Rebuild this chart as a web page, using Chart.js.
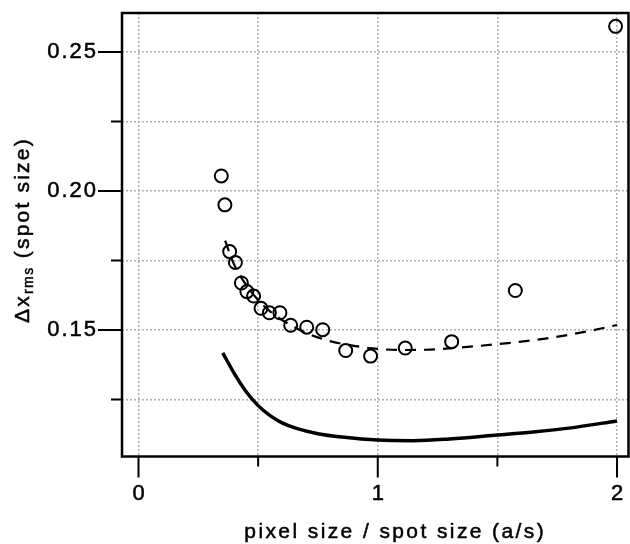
<!DOCTYPE html>
<html>
<head>
<meta charset="utf-8">
<script src="https://cdn.jsdelivr.net/npm/chart.js@4.4.1/dist/chart.umd.min.js"></script>
<style>
  html, body { margin: 0; padding: 0; background: #fff; }
</style>
</head>
<body>
<canvas id="chart" width="630" height="544"></canvas>
<script>
// measured points (circles)
const pointX = [0.346, 0.361, 0.381, 0.405, 0.430, 0.453, 0.481, 0.512, 0.547, 0.591,
                0.636, 0.703, 0.770, 0.866, 0.970, 1.115, 1.309, 1.575, 1.994];
const pointY = [0.2054, 0.1950, 0.1782, 0.1743, 0.1669, 0.1638, 0.1622, 0.1578, 0.1562, 0.1562,
                0.1517, 0.1510, 0.1501, 0.1426, 0.1406, 0.1435, 0.1458, 0.1642, 0.2592];

// dashed fit curve
const fitX = [0.362, 0.40, 0.45, 0.50, 0.55, 0.60, 0.70, 0.80, 0.90, 1.00,
              1.10, 1.20, 1.30, 1.40, 1.50, 1.60, 1.70, 1.80, 1.90, 2.00];
const fitY = [0.1821, 0.1735, 0.1662, 0.1608, 0.1567, 0.1536, 0.1490, 0.1460, 0.1443, 0.1432,
              0.1428, 0.1429, 0.1434, 0.1441, 0.1449, 0.1458, 0.1469, 0.1483, 0.1499, 0.1518];

// solid curve
const limitX = [0.352, 0.40, 0.45, 0.50, 0.55, 0.60, 0.66, 0.75, 0.85, 1.00,
                1.15, 1.30, 1.50, 1.65, 1.80, 2.00];
const limitY = [0.1418, 0.1344, 0.1278, 0.1228, 0.1192, 0.1166, 0.1146, 0.1127, 0.1115, 0.1104,
                0.1102, 0.1108, 0.1122, 0.1133, 0.1147, 0.1173];

const xGrid = [0, 0.5, 1, 1.5, 2];
const xLabels = [0, 1, 2];
const yGrid = [0.125, 0.15, 0.175, 0.2, 0.225, 0.25];
const yLabels = [0.15, 0.2, 0.25];

const xTitle = "pixel size / spot size (a/s)";
const yTitleMain = "\u0394x";
const yTitleSub = "rms";
const yTitleRest = " (spot size)";

const FONT = "'Liberation Sans', Arial, sans-serif";

const toXY = (xs, ys) => xs.map((x, i) => ({ x: x, y: ys[i] }));

// text with letter spacing; trailing spacing left out of the alignment
function spaced(ctx, text, x, y, size, ls, align) {
  ctx.font = size + "px " + FONT;
  ctx.letterSpacing = ls + "px";
  ctx.textAlign = "left";
  const w = ctx.measureText(text).width - ls;
  let x0 = x;
  if (align === "center") x0 = x - w / 2;
  if (align === "right") x0 = x - w;
  ctx.fillText(text, x0, y);
  ctx.strokeText(text, x0, y); // a little heavier, like the original
  return w + ls;
}

// frame, tick marks, tick labels and axis titles
const decor = {
  id: "decor",
  afterDraw(chart) {
    const { ctx, chartArea: a, scales } = chart;
    ctx.save();
    ctx.strokeStyle = "#000";
    ctx.lineWidth = 2;
    ctx.beginPath();
    yGrid.forEach((v) => {
      const y = scales.y.getPixelForValue(v);
      const len = yLabels.includes(v) ? 24 : 11;
      ctx.moveTo(a.left - len, y);
      ctx.lineTo(a.left, y);
    });
    xGrid.forEach((v) => {
      const x = scales.x.getPixelForValue(v);
      const len = xLabels.includes(v) ? 21 : 10;
      ctx.moveTo(x, a.bottom);
      ctx.lineTo(x, a.bottom + len);
    });
    ctx.stroke();

    ctx.lineWidth = 2.5;
    ctx.strokeRect(a.left, a.top, a.right - a.left, a.bottom - a.top);

    ctx.fillStyle = "#000";
    ctx.lineWidth = 0.5;
    ctx.textBaseline = "alphabetic";

    // tick labels
    yLabels.forEach((v) => {
      const y = scales.y.getPixelForValue(v);
      spaced(ctx, v.toFixed(2), 96, y + 6.5, 22, 2, "right");
    });
    xLabels.forEach((v) => {
      const x = scales.x.getPixelForValue(v);
      spaced(ctx, String(v), x, 500, 22, 2, "center");
    });

    // x title
    spaced(ctx, xTitle, 394, 538, 21, 2.4, "center");

    // y title, rotated, with subscript
    ctx.translate(28.5, 323);
    ctx.rotate(-Math.PI / 2);
    let pos = 0;
    pos += spaced(ctx, yTitleMain, pos, 0, 21, 2.2, "left");
    pos += spaced(ctx, yTitleSub, pos, 4.5, 14, 1.5, "left");
    spaced(ctx, yTitleRest, pos, 0, 21, 2.2, "left");
    ctx.restore();
  }
};

new Chart(document.getElementById("chart"), {
  type: "scatter",
  data: {
    datasets: [
      {
        data: toXY(pointX, pointY),
        pointStyle: "circle",
        pointRadius: 6.5,
        pointBorderWidth: 2,
        borderColor: "#000",
        backgroundColor: "rgba(0,0,0,0)",
        showLine: false
      },
      {
        data: toXY(fitX, fitY),
        showLine: true,
        borderColor: "#000",
        borderWidth: 2.2,
        borderDash: [11, 8],
        pointRadius: 0,
        cubicInterpolationMode: "monotone"
      },
      {
        data: toXY(limitX, limitY),
        showLine: true,
        borderColor: "#000",
        borderWidth: 3.5,
        pointRadius: 0,
        cubicInterpolationMode: "monotone"
      }
    ]
  },
  options: {
    responsive: false,
    animation: false,
    events: [],
    layout: { autoPadding: false, padding: { top: 13, right: 1.5, left: 0, bottom: 0 } },
    plugins: { legend: { display: false }, tooltip: { enabled: false } },
    scales: {
      x: {
        type: "linear",
        min: -0.069,
        max: 2.048,
        afterBuildTicks: (s) => { s.ticks = xGrid.map((v) => ({ value: v })); },
        afterFit: (s) => { s.height = 87.5; },
        ticks: { display: false },
        grid: { color: "#b0b0b0", lineWidth: 1.5, drawTicks: false },
        border: { display: false, dash: [2, 2] }
      },
      y: {
        type: "linear",
        min: 0.1045,
        max: 0.264,
        afterBuildTicks: (s) => { s.ticks = yGrid.map((v) => ({ value: v })); },
        afterFit: (s) => { s.width = 122; },
        ticks: { display: false },
        grid: { color: "#b0b0b0", lineWidth: 1.5, drawTicks: false },
        border: { display: false, dash: [2, 2] }
      }
    }
  },
  plugins: [decor]
});
</script>
</body>
</html>
